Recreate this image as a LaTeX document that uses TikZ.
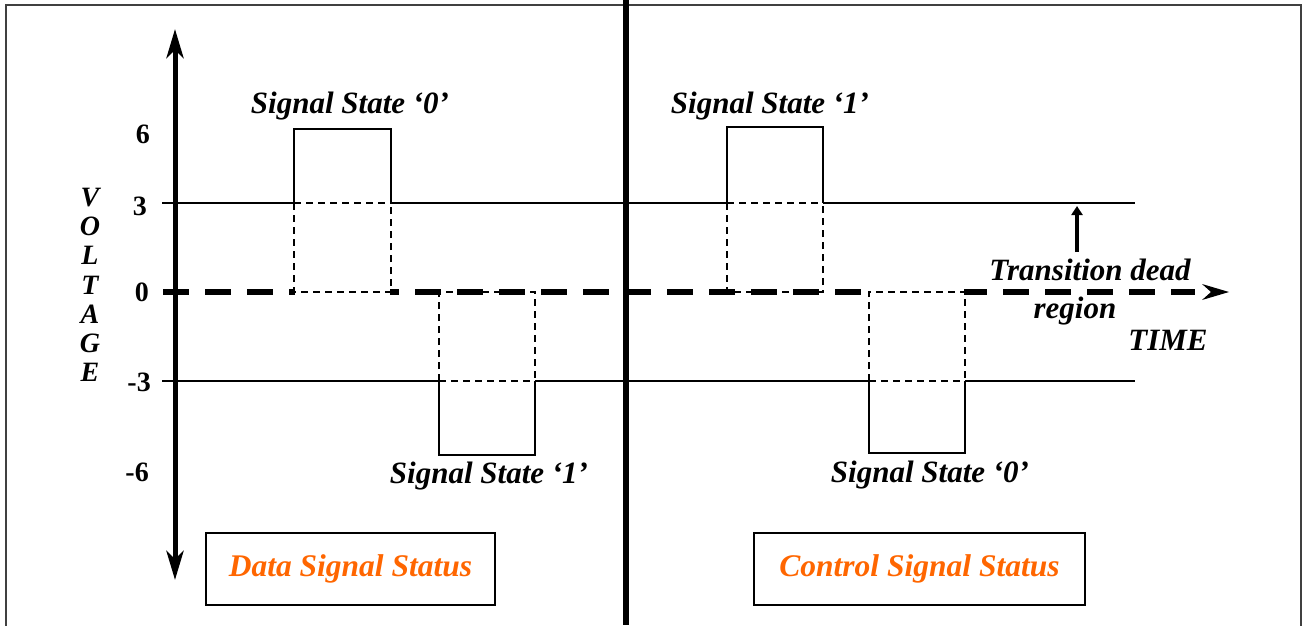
\documentclass[tikz,border=0pt]{standalone}
\usepackage{fontspec}
\setmainfont{Liberation Serif}
\usetikzlibrary{arrows.meta}
\definecolor{orangetxt}{HTML}{FF6600}
\begin{document}
\begin{tikzpicture}[x=1pt,y=-1pt,
  thinline/.style={line width=1.5pt},
  thindash/.style={line width=1.5pt, dash pattern=on 7pt off 5pt},
  zeroline/.style={line width=6pt, dash pattern=on 26pt off 16pt},
  lbl/.style={font=\fontsize{31}{33}\selectfont\bfseries\itshape, inner sep=0pt},
  num/.style={font=\fontsize{28}{30}\selectfont\bfseries, inner sep=0pt, anchor=east},
  vlet/.style={font=\fontsize{28}{29.2}\selectfont\bfseries\itshape, inner sep=0pt, align=center},
  statusbox/.style={draw, line width=1.6pt, minimum height=72pt, inner sep=0pt,
    font=\fontsize{31.5}{34}\selectfont\bfseries\itshape, text=orangetxt}
]
\useasboundingbox (0,0) rectangle (1302,625);
% frame
\draw[line width=1.6pt, black!75] (6,630) -- (6,5) -- (1301,5) -- (1301,630);

% named coordinates
\coordinate (ytop) at (175,29);
\coordinate (ybot) at (175,580);
\coordinate (zstart) at (163,292);
\coordinate (zend) at (1195,292);

% +3 level line
\draw[thinline] (162,203) -- (294,203);
\draw[thindash] (294,203) -- (391,203);
\draw[thinline] (391,203) -- (727,203);
\draw[thindash] (727,203) -- (823,203);
\draw[thinline] (823,203) -- (1135,203);
% -3 level line
\draw[thinline] (162,381) -- (439,381);
\draw[thindash] (439,381) -- (535,381);
\draw[thinline] (535,381) -- (869,381);
\draw[thindash] (869,381) -- (965,381);
\draw[thinline] (965,381) -- (1135,381);

% zero line (thick dashed) with arrow head
\draw[zeroline] (zstart) -- (zend);
\fill[white] (295,286) rectangle (390,298);
\fill[white] (870,286) rectangle (964,298);
\fill (1229,292) -- (1202,284) -- (1211,292) -- (1202,300) -- cycle;

% pulses, left panel
\draw[thinline] (294,203) -- (294,129) -- (391,129) -- (391,203);
\draw[thindash] (294,203) -- (294,292) -- (391,292) -- (391,203);
\draw[thinline] (439,381) -- (439,455) -- (535,455) -- (535,381);
\draw[thindash] (439,381) -- (439,292) -- (535,292) -- (535,381);
% pulses, right panel
\draw[thinline] (727,203) -- (727,127) -- (823,127) -- (823,203);
\draw[thindash] (727,203) -- (727,292) -- (823,292) -- (823,203);
\draw[thinline] (869,381) -- (869,453) -- (965,453) -- (965,381);
\draw[thindash] (869,381) -- (869,292) -- (965,292) -- (965,381);

% voltage axis
\draw[line width=5pt, {Stealth[length=29pt,width=17pt,inset=8pt]}-{Stealth[length=29pt,width=17pt,inset=8pt]}] (ytop) -- (ybot);

% middle divider
\draw[line width=6pt] (626,0) -- (626,625);

% dead-region arrow
\coordinate (dtail) at (1077,252);
\coordinate (dhead) at (1077,206);
\draw[line width=4pt, -{Triangle[length=9pt,width=11pt]}] (dtail) -- (dhead);

% axis numbers
\node[num] (n6) at (150,134.5) {6};
\node[num] (n3) at (147,206.5) {3};
\node[num] (n0) at (149,292.5) {0};
\node[num] (nm3) at (151,382.5) {-3};
\node[num] (nm6) at (149,472.5) {-6};

% VOLTAGE
\node[vlet] (volt) at (90,285) {V\\O\\L\\T\\A\\G\\E};

% signal state labels
\node[lbl] (s0a) at (350,106) {Signal State ‘0’};
\node[lbl] (s1a) at (489,476) {Signal State ‘1’};
\node[lbl] (s1b) at (770,106) {Signal State ‘1’};
\node[lbl] (s0b) at (930,475) {Signal State ‘0’};

% other labels
\node[lbl] (trans) at (1090,270) {Transition dead};
\node[lbl] (reg) at (1075,311) {region};
\node[lbl] (time) at (1168,340) {TIME};

% status boxes
\node[statusbox, minimum width=289pt] (data) at (350.5,569) {Data Signal Status};
\node[statusbox, minimum width=331pt] (ctrl) at (919.5,569) {Control Signal Status};
\end{tikzpicture}
\end{document}
